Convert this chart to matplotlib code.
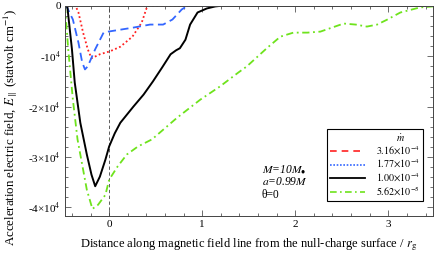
import matplotlib
matplotlib.use("Agg")
import matplotlib.pyplot as plt
from matplotlib.lines import Line2D
from matplotlib.ticker import MultipleLocator, FixedLocator

plt.rcParams["font.family"] = ["Liberation Serif", "DejaVu Serif"]
plt.rcParams["mathtext.fontset"] = "stix"
plt.rcParams["font.size"] = 8

# -------------------------
# Data
# -------------------------
mdot_labels = [r"$\mathit{3.16{\times}10^{-4}}$", r"$\mathit{1.77{\times}10^{-4}}$",
               r"$\mathit{1.00{\times}10^{-4}}$", r"$\mathit{5.62{\times}10^{-5}}$"]

red_x = [-0.475, -0.36, -0.33, -0.28, -0.23, -0.19, -0.10, 0.01, 0.12, 0.25, 0.35, 0.41, 3.48]
red_y = [0, 0, -1300, -5300, -8600, -10400, -9600, -9000, -8100, -6100, -3300, 0, 0]

blue_x = [-0.475, -0.46, -0.39, -0.33, -0.29, -0.26, -0.23, -0.15, -0.06, -0.01,
          0.26, 0.44, 0.58, 0.68, 0.78, 0.84, 3.48]
blue_y = [0, 0, -2700, -7300, -11200, -12600, -12000, -8600, -5300, -5100,
          -4300, -3700, -3700, -2700, -700, 0, 0]

black_x = [-0.475, -0.45, -0.40, -0.37, -0.31, -0.24, -0.19, -0.15, -0.10, -0.04, 0.0,
           0.06, 0.12, 0.19, 0.26, 0.37, 0.47, 0.57, 0.66, 0.72, 0.76, 0.82, 0.87, 0.95,
           1.05, 1.14, 1.19, 3.48]
black_y = [0, -100, -8600, -15200, -23200, -29500, -33500, -35800, -33900, -30500, -27900,
           -25300, -23200, -21600, -20000, -17600, -15000, -12200, -9600, -8800, -8400,
           -6700, -3700, -1300, -500, -100, 0, 0]

green_x = [-0.475, -0.44, -0.39, -0.34, -0.29, -0.24, -0.18, -0.12, -0.04, 0.0, 0.09,
           0.19, 0.31, 0.46, 0.73, 0.98, 1.19, 1.39, 1.48, 1.70, 1.84, 1.98, 2.13, 2.27,
           2.52, 2.65, 2.77, 2.88, 2.99, 3.13, 3.34, 3.48]
green_y = [0, -8600, -18600, -26500, -31500, -36500, -40300, -39500, -37500, -34500, -31900,
           -29500, -27900, -26500, -22200, -18600, -16000, -13200, -12000, -8300, -6100,
           -5300, -5300, -5100, -3500, -3700, -4100, -3700, -2700, -1300, -300, -100]

ytick_vals = [0, -10000, -20000, -30000, -40000]
ytick_labels = ["0", "-10$^4$", "-2×10$^4$", "-3×10$^4$", "-4×10$^4$"]
xtick_vals = [0, 1, 2, 3]

red = "#ff2020"
blue = "#3366ff"
green = "#6ee31c"

fig = plt.figure(figsize=(4.36, 2.58), dpi=100)
ax = fig.add_axes([0.149, 0.163, 0.844, 0.814])

ax.axvline(0, color="#444444", lw=0.6, ls=(0, (4, 3)))

ax.plot(red_x, red_y, color=red, lw=1.3, ls=(0, (1, 1.4)))
ax.plot(blue_x, blue_y, color=blue, lw=1.3, ls=(0, (4.5, 2.5)))
ax.plot(black_x, black_y, color="black", lw=1.4)
ax.plot(green_x, green_y, color=green, lw=1.3, ls=(0, (4, 2, 1, 2)))

ax.set_xlim(-0.475, 3.48)
ax.set_ylim(-41700, 0)

ax.xaxis.set_major_locator(FixedLocator(xtick_vals))
ax.xaxis.set_minor_locator(MultipleLocator(0.2))
ax.yaxis.set_major_locator(FixedLocator(ytick_vals))
ax.set_yticklabels(ytick_labels)
ax.yaxis.set_minor_locator(MultipleLocator(2000))
ax.tick_params(which="both", direction="in", top=True, right=True, width=0.6, color="#555555")
ax.tick_params(which="major", length=4, pad=3, labelsize=8)
ax.tick_params(which="minor", length=2)
for s in ax.spines.values():
    s.set_linewidth(0.7)
    s.set_color("#444444")

ax.set_xlabel(r"Distance along magnetic field line from the null-charge surface / $r_{\rm g}$",
              labelpad=5, fontsize=9)
ax.set_ylabel(r"Acceleration electric field, $E_{\parallel}$ (statvolt cm$^{-1}$)",
              fontsize=9.3)
ax.yaxis.set_label_coords(-0.122, 0.42)

# annotations
ax.text(0.535, 0.219, r"$M$=10$M_{•}$", transform=ax.transAxes, va="center",
        fontsize=8.3, style="italic")
ax.text(0.535, 0.162, r"$a$=0.99$M$", transform=ax.transAxes, va="center",
        fontsize=8.3, style="italic")
ax.text(0.535, 0.100, "θ=0", transform=ax.transAxes, va="center", fontsize=8.3)

# legend (handle styles as printed in the original legend)
handles = [
    Line2D([], [], color="none"),
    Line2D([], [], color=red, lw=1.2, ls=(0, (4, 3))),
    Line2D([], [], color=blue, lw=1.2, ls=(0, (1, 1))),
    Line2D([], [], color="black", lw=1.3),
    Line2D([], [], color=green, lw=1.2, ls=(0, (4, 2, 1, 2))),
]
labels = ["        " + r"$\dot{m}$"] + mdot_labels
leg = ax.legend(handles, labels, loc="lower right", bbox_to_anchor=(0.973, 0.071),
                frameon=True, fancybox=False, edgecolor="black", framealpha=1,
                handlelength=3.5, handletextpad=1.1, labelspacing=0.1,
                borderpad=0.3, borderaxespad=0, fontsize=7.2)
leg.get_frame().set_linewidth(0.8)

fig.savefig("out.png", dpi=100)
